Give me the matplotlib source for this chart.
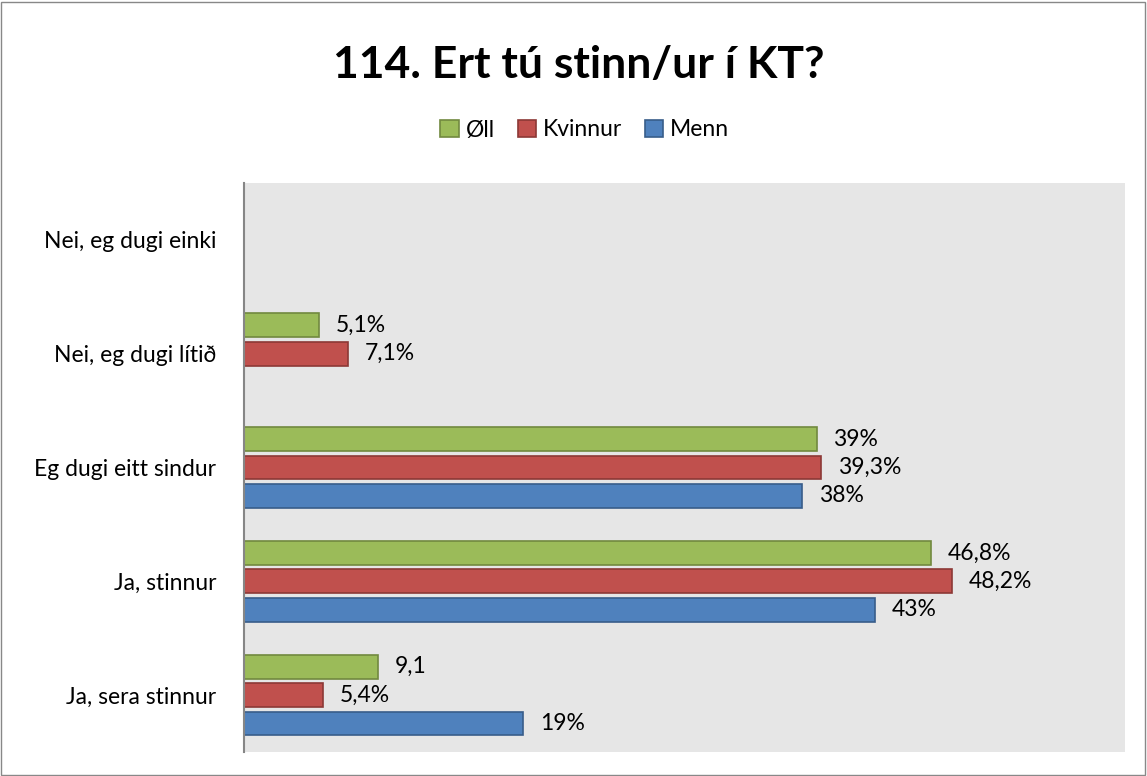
import numpy as np
import matplotlib.pyplot as plt
from matplotlib.patches import Rectangle

plt.rcParams['font.family'] = ['Lato', 'DejaVu Sans']

categories = ["Nei, eg dugi einki", "Nei, eg dugi lítið", "Eg dugi eitt sindur",
              "Ja, stinnur", "Ja, sera stinnur"]
series = ["Øll", "Kvinnur", "Menn"]
oll = [np.nan, 5.1, 39, 46.8, 9.1]
kvinnur = [np.nan, 7.1, 39.3, 48.2, 5.4]
menn = [np.nan, np.nan, 38, 43, 19]
oll_labels = ["", "5,1%", "39%", "46,8%", "9,1"]
kvinnur_labels = ["", "7,1%", "39,3%", "48,2%", "5,4%"]
menn_labels = ["", "", "38%", "43%", "19%"]

faces = ["#9BBB59", "#C0504D", "#4F81BD"]
edges = ["#71893F", "#8C3836", "#385D8A"]

fig = plt.figure(figsize=(11.47, 7.76), dpi=100)
ax = fig.add_axes([244/1147, 1-752/776, (1125-244)/1147, (752-183)/776])
ax.set_facecolor("#E6E6E6")

y = np.arange(len(categories))
offsets = [-0.25, 0, 0.25]
data = [oll, kvinnur, menn]
labels = [oll_labels, kvinnur_labels, menn_labels]
for k in range(3):
    vals = np.array(data[k], dtype=float)
    mask = ~np.isnan(vals)
    ax.barh(y[mask] + offsets[k], vals[mask], height=0.21, color=faces[k],
            edgecolor=edges[k], linewidth=1.2, label=series[k])
    for i in np.where(mask)[0]:
        ax.annotate(labels[k][i], (vals[i], y[i] + offsets[k]), xytext=(12, 0),
                    textcoords="offset points", va="center", ha="left",
                    fontsize=16.5, color="black")

ax.set_xlim(0, 60)
ax.set_ylim(4.5, -0.5)
ax.set_yticks(y)
ax.set_yticklabels(categories, fontsize=16.5)
ax.tick_params(axis="y", length=0, pad=20)
ax.set_xticks([])
for s in ["top", "right", "bottom"]:
    ax.spines[s].set_visible(False)
ax.spines["left"].set_color("#868686")
ax.spines["left"].set_linewidth(1.5)

fig.text(0.505, 1-65/776, "114. Ert tú stinn/ur í KT?", ha="center", va="center",
         fontsize=32, fontweight="bold")
fig.legend(loc="center", bbox_to_anchor=(0.51, 1-130/776), ncol=3, frameon=False,
           fontsize=16.5, handlelength=0.8, handleheight=0.8, handletextpad=0.3,
           columnspacing=1.0)

fig.add_artist(Rectangle((0.001, 0.001), 0.997, 0.997, transform=fig.transFigure,
                         fill=False, edgecolor="#888888", linewidth=1))

fig.savefig("out.png", dpi=100)
